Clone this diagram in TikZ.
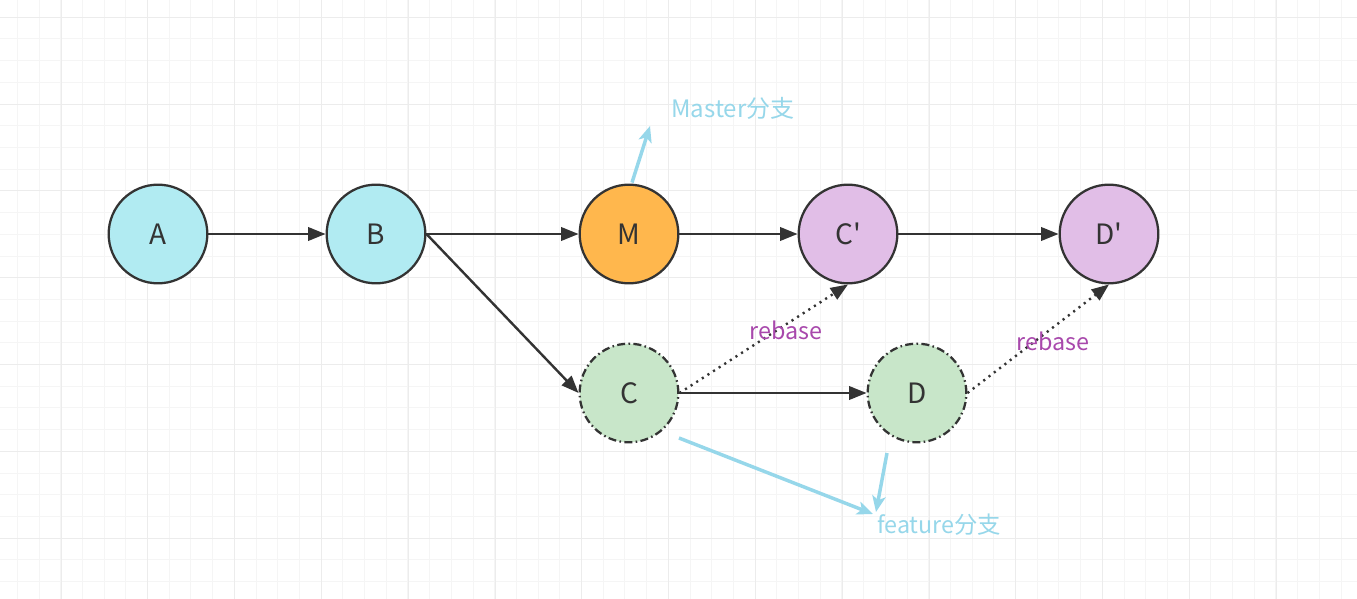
\documentclass[tikz,border=0pt]{standalone}
\usepackage{fontspec}
\setmainfont{Noto Sans CJK SC}
\usepackage{tikz}
\usetikzlibrary{arrows.meta}

\definecolor{gridminor}{RGB}{245,245,245}
\definecolor{gridmajor}{RGB}{236,236,236}
\definecolor{edgegray}{RGB}{51,51,51}
\definecolor{cyanfill}{RGB}{177,235,242}
\definecolor{orangefill}{RGB}{255,183,77}
\definecolor{lilacfill}{RGB}{225,190,231}
\definecolor{greenfill}{RGB}{200,230,201}
\definecolor{rebasepurple}{RGB}{168,72,172}
\definecolor{notblue}{RGB}{150,215,234}

\tikzset{
  commit/.style={circle, draw=edgegray, line width=1.7pt, minimum size=74pt, inner sep=0pt,
    text=edgegray, font=\fontsize{21}{25}\selectfont},
  movedcommit/.style={commit, dash pattern=on 6pt off 2.5pt on 1.2pt off 2.5pt},
  link/.style={draw=edgegray, line width=1.8pt, -{Triangle[length=13pt,width=10pt]}},
  rebaselink/.style={link, dash pattern=on 1.6pt off 3.4pt},
  note/.style={draw=notblue, line width=2.6pt, -{Stealth[length=12pt,width=10pt,inset=3pt]}},
}

\begin{document}
\begin{tikzpicture}[x=0.75pt, y=-0.75pt]
 \useasboundingbox (0,0) rectangle (1357,599);
 \fill[white] (0,0) rectangle (1357,599);
 % background grid
 \foreach \i in {0,...,62} \draw[gridminor, line width=0.75pt] ({17.3+21.7*\i},0) -- ({17.3+21.7*\i},599);
 \foreach \i in {0,...,27} \draw[gridminor, line width=0.75pt] (0,{17.3+21.7*\i}) -- (1357,{17.3+21.7*\i});
 \foreach \i in {0,...,15} \draw[gridmajor, line width=0.75pt] ({61+86.8*\i},0) -- ({61+86.8*\i},599);
 \foreach \i in {0,...,6} \draw[gridmajor, line width=0.75pt] (0,{17.3+86.8*\i}) -- (1357,{17.3+86.8*\i});

 % commits
 \node[commit, fill=cyanfill] (A) at (158,234) {A};
 \node[commit, fill=cyanfill] (B) at (376,234) {B};
 \node[commit, fill=orangefill] (M) at (629,234) {M};
 \node[commit, fill=lilacfill] (Cp) at (848,234) {C\textquotesingle};
 \node[commit, fill=lilacfill] (Dp) at (1109,234) {D\textquotesingle};
 \node[movedcommit, fill=greenfill] (C) at (629,393) {C};
 \node[movedcommit, fill=greenfill] (D) at (917,393) {D};

 \draw[link] (A) -- (B);
 \draw[link] (B) -- (M);
 \draw[link] (M) -- (Cp);
 \draw[link] (Cp) -- (Dp);
 \draw[link] (B.east) -- (C.west);
 \draw[link] (C.east) -- (D.west);
 \draw[rebaselink] (C.east) -- (Cp.south);
 \draw[rebaselink] (D.east) -- (Dp.south);

 \node[text=rebasepurple, font=\fontsize{17.5}{20}\selectfont] (rb1) at (786,330) {rebase};
 \node[text=rebasepurple, font=\fontsize{17.5}{20}\selectfont] (rb2) at (1053,341) {rebase};

 % branch notes
 \node[text=notblue, font=\fontsize{18}{22}\selectfont] (master) at (733,108) {Master分支};
 \node[text=notblue, font=\fontsize{17.5}{21}\selectfont, anchor=west, inner sep=0pt] (feature) at (877,525) {feature分支};
 \coordinate (mtip) at (650,126);
 \coordinate (ftip) at (873,514);
 \coordinate (ctail) at (679,438);
 \coordinate (dtail) at (887,453);
 \draw[note] (M.north) ++(3,-1) -- (mtip);
 \draw[note] (ctail) -- (ftip);
 \draw[note] (dtail) -- (876,512);
\end{tikzpicture}
\end{document}
